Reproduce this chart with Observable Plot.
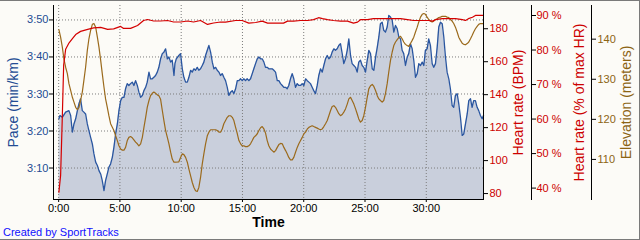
<!DOCTYPE html>
<html><head><meta charset="utf-8">
<script src="https://cdn.jsdelivr.net/npm/d3@7"></script>
<script src="https://cdn.jsdelivr.net/npm/@observablehq/plot@0.6"></script>
<style>
html,body{margin:0;padding:0;background:#fcfbf7}
#chart{position:relative;width:640px;height:240px;background:#fcfbf7;overflow:hidden;font-family:"Liberation Sans",Arial,sans-serif}
#chart svg{position:absolute;left:0;top:0;overflow:visible}
#border{position:absolute;left:0;top:0;width:640px;height:240px;box-sizing:border-box;border-top:1px solid #7a7a7a;border-right:1px solid #7a7a7a;border-bottom:1px solid #7a7a7a;pointer-events:none}
#credit{position:absolute;left:3px;top:225px;font-size:11px;color:#1010ff;line-height:14px}
</style></head>
<body>
<div id="chart"></div>
<script>
// ---- data: [time (min), value] ----
const pace = [[0.02,203.3],[0.11,204.2],[0.30,203.7],[0.57,205.1],[0.84,205.5],[0.98,204.2],[1.12,199.7],[1.25,201.9],[1.39,203.3],[1.53,205.5],[1.66,207.4],[1.79,208.7],[1.93,205.5],[2.06,205.1],[2.20,204.6],[2.34,201.9],[2.47,200.1],[2.61,198.3],[2.75,196.5],[2.88,193.8],[3.02,191.6],[3.16,190.7],[3.29,189.3],[3.43,188.4],[3.56,186.6],[3.70,183.9],[3.83,186.6],[3.97,188.4],[4.10,190.2],[4.24,191.1],[4.38,192.9],[4.51,195.6],[4.65,199.2],[4.79,201.9],[4.92,205.5],[5.06,208.2],[5.20,209.1],[5.33,209.1],[5.46,211.4],[5.60,212.8],[5.73,212.3],[5.87,212.8],[6.01,213.2],[6.14,212.3],[6.28,213.6],[6.42,212.3],[6.55,210.5],[6.69,209.1],[6.83,209.6],[6.96,210.9],[7.10,211.8],[7.23,213.2],[7.37,215.9],[7.50,214.1],[7.64,214.1],[7.77,214.5],[7.91,215.0],[8.05,215.9],[8.18,217.2],[8.32,219.5],[8.46,220.9],[8.59,221.3],[8.73,222.2],[8.87,219.5],[9.00,220.0],[9.14,218.6],[9.27,219.1],[9.41,215.0],[9.49,218.2],[9.60,219.5],[9.81,220.4],[9.95,220.9],[10.09,216.8],[10.22,214.5],[10.36,213.2],[10.50,213.2],[10.63,214.5],[10.77,216.4],[10.90,215.9],[11.04,216.8],[11.17,216.4],[11.31,217.2],[11.44,216.4],[11.58,216.8],[11.72,217.7],[11.85,218.6],[11.99,220.4],[12.13,221.8],[12.26,223.1],[12.40,221.3],[12.54,218.6],[12.67,216.8],[12.81,217.2],[12.94,216.4],[13.08,215.9],[13.21,215.0],[13.35,215.5],[13.48,214.5],[13.62,213.6],[13.76,211.8],[13.89,209.6],[14.03,210.5],[14.17,210.9],[14.30,210.1],[14.44,211.4],[14.58,213.6],[14.71,213.6],[14.85,214.1],[14.98,213.6],[15.11,214.1],[15.25,213.6],[15.39,214.1],[15.52,213.6],[15.66,214.1],[15.80,215.5],[15.93,216.8],[16.07,218.2],[16.21,219.5],[16.34,220.0],[16.48,219.5],[16.61,219.5],[16.75,218.6],[16.88,217.2],[17.02,217.2],[17.15,216.8],[17.29,216.8],[17.43,216.8],[17.56,216.4],[17.70,215.9],[17.84,213.6],[17.97,213.6],[18.11,212.8],[18.25,212.3],[18.38,211.8],[18.52,211.8],[18.65,211.4],[18.78,212.3],[18.92,214.1],[19.06,215.5],[19.19,214.1],[19.33,211.8],[19.47,212.8],[19.60,212.3],[19.74,212.3],[19.88,212.8],[20.01,212.3],[20.15,214.1],[20.29,213.6],[20.42,213.2],[20.55,212.8],[20.69,211.8],[20.82,210.9],[20.96,210.1],[21.10,212.3],[21.23,215.0],[21.37,216.8],[21.51,215.9],[21.64,217.7],[21.78,219.5],[21.92,220.4],[22.05,219.5],[22.19,220.0],[22.32,221.3],[22.46,222.2],[22.59,221.8],[22.73,222.2],[22.86,223.1],[23.00,223.6],[23.14,220.9],[23.27,218.2],[23.41,219.5],[23.55,221.8],[23.68,224.9],[23.82,220.4],[23.95,218.2],[24.09,217.7],[24.23,217.2],[24.36,215.9],[24.49,218.6],[24.63,219.1],[24.77,217.7],[24.90,217.2],[25.04,215.9],[25.18,219.1],[25.31,221.8],[25.45,220.9],[25.59,216.8],[25.72,216.4],[25.86,219.9],[26.00,222.6],[26.13,225.4],[26.26,229.0],[26.40,229.4],[26.53,227.2],[26.67,226.7],[26.81,228.1],[26.94,231.2],[27.08,230.8],[27.22,229.9],[27.35,226.7],[27.49,228.5],[27.63,227.6],[27.76,225.4],[27.90,224.9],[28.03,221.8],[28.16,220.9],[28.30,217.7],[28.44,219.9],[28.57,220.9],[28.71,223.6],[28.85,222.2],[28.98,219.1],[29.12,214.5],[29.26,215.5],[29.39,218.2],[29.53,217.7],[29.67,218.6],[29.80,217.7],[29.93,221.8],[30.07,222.2],[30.20,224.9],[30.34,223.1],[30.48,218.2],[30.61,217.2],[30.75,218.2],[30.89,222.6],[31.02,228.1],[31.16,229.4],[31.30,229.0],[31.43,225.4],[31.57,219.9],[31.70,215.9],[31.84,214.1],[31.97,211.4],[32.11,206.9],[32.24,206.4],[32.38,209.6],[32.52,210.1],[32.65,207.4],[32.79,203.7],[32.93,198.8],[33.06,199.2],[33.20,201.9],[33.34,204.6],[33.47,208.2],[33.61,208.7],[33.74,206.4],[33.87,208.2],[34.01,208.2],[34.15,206.4],[34.28,205.5],[34.42,204.2],[34.56,203.3],[34.67,204.2]];

const heartRate = [[0.02,80.8],[0.16,91],[0.29,124],[0.41,158],[0.57,167.5],[0.82,171.1],[1.14,174.1],[1.39,176.5],[1.79,178.4],[2.37,179.6],[2.85,180.5],[3.43,180.8],[4.00,179.6],[4.49,179.9],[5.06,181.4],[5.30,180.2],[5.87,180.2],[6.44,182.0],[6.93,185.0],[7.26,185.6],[7.75,184.7],[8.32,184.7],[8.89,185.0],[9.38,184.1],[9.95,184.1],[10.52,184.7],[11.01,184.1],[11.58,185.0],[12.15,182.6],[12.64,183.5],[13.21,184.1],[13.62,184.0],[14.44,185.0],[14.98,185.0],[15.52,183.4],[16.07,183.8],[16.61,184.6],[17.05,183.4],[17.86,183.4],[18.35,183.4],[18.68,184.6],[19.17,184.6],[19.74,185.0],[20.31,185.0],[20.80,185.5],[21.21,186.7],[21.53,186.1],[21.94,185.5],[22.43,185.0],[23.00,184.6],[23.57,184.6],[24.06,183.4],[24.39,184.0],[24.63,185.5],[25.20,185.5],[25.69,186.1],[26.26,186.1],[26.84,186.1],[27.32,186.1],[27.90,186.1],[28.47,185.5],[28.96,185.0],[29.53,185.0],[30.18,185.0],[30.51,184.6],[30.75,185.5],[31.32,186.1],[31.81,186.1],[32.38,186.1],[32.95,185.5],[33.20,185.0],[33.44,186.1],[33.77,187.0],[34.01,188.1],[34.42,188.1],[34.67,188.1]];

const elevation = [[0.02,142.4],[0.16,140.5],[0.30,138.0],[0.43,135.1],[0.57,133.0],[0.71,131.4],[0.84,128.9],[0.98,127.2],[1.12,125.5],[1.25,124.3],[1.39,123.0],[1.53,122.4],[1.66,123.0],[1.79,124.7],[1.93,126.8],[2.06,129.7],[2.20,133.0],[2.34,137.2],[2.47,140.1],[2.61,142.2],[2.75,143.7],[2.88,143.9],[3.02,143.0],[3.16,140.5],[3.29,138.0],[3.43,134.7],[3.56,131.4],[3.70,128.0],[3.83,125.1],[3.97,123.0],[4.10,120.9],[4.24,118.9],[4.38,118.0],[4.51,117.2],[4.65,115.9],[4.79,114.7],[4.92,113.4],[5.06,112.6],[5.20,112.3],[5.33,112.3],[5.46,113.0],[5.60,114.7],[5.73,115.5],[5.87,115.7],[6.01,115.4],[6.14,114.9],[6.28,114.3],[6.42,113.9],[6.55,113.4],[6.69,113.9],[6.83,115.5],[6.96,118.0],[7.10,120.5],[7.23,123.0],[7.37,124.7],[7.50,125.9],[7.64,126.5],[7.77,126.8],[7.91,126.5],[8.05,126.1],[8.18,125.9],[8.32,125.0],[8.46,122.2],[8.59,119.7],[8.73,117.2],[8.87,115.5],[9.00,113.9],[9.14,111.8],[9.27,110.1],[9.41,109.3],[9.54,109.3],[9.81,109.4],[9.95,110.5],[10.09,111.4],[10.22,111.2],[10.36,110.5],[10.50,109.3],[10.63,107.6],[10.77,105.9],[10.90,104.3],[11.04,103.0],[11.17,102.2],[11.31,102.0],[11.44,103.0],[11.58,105.5],[11.72,108.9],[11.85,111.4],[11.99,113.9],[12.13,115.9],[12.26,116.8],[12.40,117.4],[12.67,117.4],[12.81,117.4],[12.94,117.2],[13.08,116.8],[13.21,116.8],[13.35,117.6],[13.48,118.9],[13.62,119.7],[13.76,120.5],[13.89,120.9],[14.03,120.9],[14.17,120.5],[14.30,119.7],[14.44,118.0],[14.58,116.4],[14.71,114.7],[14.85,113.9],[14.98,113.4],[15.11,113.4],[15.25,113.2],[15.39,113.2],[15.52,113.4],[15.66,113.9],[15.80,114.7],[15.93,115.5],[16.07,115.9],[16.21,116.4],[16.34,117.2],[16.48,117.9],[16.61,118.2],[16.75,117.6],[16.88,116.6],[17.02,114.7],[17.15,113.4],[17.29,112.6],[17.43,112.2],[17.56,111.8],[17.70,112.2],[17.84,113.0],[17.97,113.7],[18.11,114.0],[18.25,113.9],[18.38,113.0],[18.52,112.2],[18.65,111.4],[18.78,110.5],[18.92,109.9],[19.06,109.9],[19.19,110.5],[19.33,111.8],[19.47,113.0],[19.60,113.9],[19.74,114.7],[19.88,115.5],[20.01,116.4],[20.15,116.8],[20.29,117.6],[20.42,118.0],[20.55,118.2],[20.69,118.4],[20.82,118.2],[20.96,118.0],[21.10,117.8],[21.23,117.6],[21.37,117.4],[21.51,117.6],[21.64,118.2],[21.78,118.9],[21.92,119.7],[22.05,120.9],[22.19,122.2],[22.32,123.2],[22.46,123.4],[22.59,123.0],[22.73,122.2],[22.86,121.4],[23.00,120.9],[23.14,121.2],[23.27,121.8],[23.41,122.6],[23.55,123.8],[23.68,125.1],[23.82,125.5],[23.95,124.7],[24.09,123.8],[24.23,122.6],[24.36,121.4],[24.49,120.1],[24.63,119.3],[24.77,119.7],[24.90,120.9],[25.04,123.0],[25.18,125.5],[25.31,127.6],[25.45,128.4],[25.59,128.7],[25.72,128.2],[25.86,127.2],[26.00,125.9],[26.13,125.1],[26.26,124.7],[26.40,124.3],[26.53,124.7],[26.67,126.4],[26.81,128.9],[26.94,131.8],[27.08,134.7],[27.22,136.8],[27.35,138.4],[27.49,139.3],[27.63,139.9],[27.76,140.4],[27.90,140.7],[28.03,140.1],[28.16,139.3],[28.30,138.7],[28.44,138.4],[28.57,138.2],[28.71,138.9],[28.85,139.7],[28.98,140.5],[29.12,141.8],[29.26,143.0],[29.39,144.3],[29.53,145.5],[29.67,146.2],[29.80,146.4],[29.93,146.2],[30.07,145.5],[30.20,144.9],[30.34,144.5],[30.48,144.3],[30.61,144.5],[30.75,144.9],[30.89,145.1],[31.02,145.4],[31.16,145.5],[31.30,145.7],[31.57,145.7],[31.70,145.5],[31.84,145.4],[31.97,144.9],[32.11,144.5],[32.24,143.9],[32.38,143.0],[32.52,141.8],[32.65,140.5],[32.79,139.7],[32.93,139.0],[33.06,138.7],[33.20,138.6],[33.34,138.9],[33.47,139.3],[33.61,140.1],[33.74,140.9],[33.87,141.8],[34.01,142.6],[34.15,143.2],[34.28,143.7],[34.42,143.9],[34.67,143.9]];

// ---- axes / ticks ----
const timeTicks = [0, 5, 10, 15, 20, 25, 30];
const paceTicks = [190, 200, 210, 220, 230];
const hrTicks = [80, 100, 120, 140, 160, 180];
const hrPctTicks = [40, 50, 60, 70, 80, 90];
const elevTicks = [110, 120, 130, 140];
const timeDomain = [-0.42, 34.67];
const paceDomain = [181.5, 233.9];
const hrDomain = [76.4, 194.1];
const hrPctDomain = [36.7, 92.9];
const elevDomain = [100, 148.4];
const labels = {time: "Time", pace: "Pace (min/km)", hr: "Heart rate (BPM)", hrPct: "Heart rate (% of max HR)", elev: "Elevation (meters)", credit: "Created by SportTracks"};

// ---- style ----
const C = {blue: "#2a56a0", blueText: "#234b93", fill: "#c9cfdc", red: "#d40000", redText: "#cc0000", brown: "#9b6a1c", brownText: "#8c6414", grid: "#7c7c7c"};
const W = 640, H = 240, mT = 5, mB = 41, mL = 53, mR = 157;
const font = {fontFamily: '"Liberation Sans", Arial, sans-serif', background: "transparent", overflow: "visible"};
const fmtPace = s => `${Math.floor(s / 60)}:${String(Math.round(s % 60)).padStart(2, "0")}`;
const root = document.getElementById("chart");
const add = p => root.appendChild(p);

// base: pace area + grid + left/bottom axes
add(Plot.plot({
  width: W, height: H, marginTop: mT, marginBottom: mB, marginLeft: mL, marginRight: mR, style: font,
  x: {domain: timeDomain, axis: null},
  y: {domain: paceDomain, axis: null},
  marks: [
    Plot.areaY(pace, {x: d => d[0], y1: paceDomain[0], y2: d => d[1], fill: C.fill}),
    Plot.gridX(timeTicks, {stroke: C.grid, strokeOpacity: 1, strokeDasharray: "1,2"}),
    Plot.gridY(paceTicks, {stroke: C.grid, strokeOpacity: 1, strokeDasharray: "1,2"}),
    Plot.lineY(pace, {x: d => d[0], y: d => d[1], stroke: C.blue, strokeWidth: 1.3}),
    Plot.frame({anchor: "left", stroke: "#000"}),
    Plot.frame({anchor: "bottom", stroke: "#000"}),
    Plot.axisY(paceTicks, {anchor: "left", tickFormat: fmtPace, tickSize: 4, tickPadding: 1, fontSize: 11, fill: C.blueText, stroke: "#000", label: null}),
    Plot.axisX(timeTicks, {anchor: "bottom", tickFormat: m => `${m}:00`, tickSize: 3, tickPadding: 2, fontSize: 11, fill: "#000", stroke: "#000", label: null}),
    Plot.text([labels.pace], {frameAnchor: "left", dx: -40, rotate: -90, textAnchor: "middle", fontSize: 14, fill: C.blueText}),
    Plot.text([labels.time], {frameAnchor: "bottom", dy: 27, textAnchor: "middle", fontSize: 14, fontWeight: "bold", fill: "#000"})
  ]
}));

// elevation line (same frame)
add(Plot.plot({
  width: W, height: H, marginTop: mT, marginBottom: mB, marginLeft: mL, marginRight: mR, style: font,
  x: {domain: timeDomain, axis: null},
  y: {domain: elevDomain, axis: null},
  marks: [Plot.lineY(elevation, {x: d => d[0], y: d => d[1], stroke: C.brown, strokeWidth: 1.2})]
}));

// heart rate line + BPM axis on right of frame
add(Plot.plot({
  width: W, height: H, marginTop: mT, marginBottom: mB, marginLeft: mL, marginRight: mR, style: font,
  x: {domain: timeDomain, axis: null},
  y: {domain: hrDomain, axis: null},
  marks: [
    Plot.lineY(heartRate, {x: d => d[0], y: d => d[1], stroke: C.red, strokeWidth: 1.2}),
    Plot.frame({anchor: "right", stroke: "#000"}),
    Plot.axisY(hrTicks, {anchor: "right", tickSize: 4, tickPadding: 2, fontSize: 11, fill: C.redText, stroke: "#000", label: null}),
    Plot.text([labels.hr], {frameAnchor: "right", dx: 35, rotate: -90, textAnchor: "middle", fontSize: 14, fill: C.redText})
  ]
}));

// % of max HR axis
add(Plot.plot({
  width: W, height: H, marginTop: mT, marginBottom: mB, marginLeft: 500, marginRight: 109, style: font,
  y: {domain: hrPctDomain, axis: null},
  marks: [
    Plot.frame({anchor: "right", stroke: "#000"}),
    Plot.axisY(hrPctTicks, {anchor: "right", tickFormat: v => `${v} %`, tickSize: 4, tickPadding: 1, fontSize: 11, fill: C.redText, stroke: "#000", label: null}),
    Plot.text([labels.hrPct], {frameAnchor: "right", dx: 48, rotate: -90, textAnchor: "middle", fontSize: 14, fill: C.redText})
  ]
}));

// elevation axis
add(Plot.plot({
  width: W, height: H, marginTop: mT, marginBottom: mB, marginLeft: 560, marginRight: 49, style: font,
  y: {domain: elevDomain, axis: null},
  marks: [
    Plot.frame({anchor: "right", stroke: "#000"}),
    Plot.axisY(elevTicks, {anchor: "right", tickSize: 4, tickPadding: 2, fontSize: 11, fill: C.brownText, stroke: "#000", label: null}),
    Plot.text([labels.elev], {frameAnchor: "right", dx: 35, rotate: -90, textAnchor: "middle", fontSize: 14, fill: C.brownText})
  ]
}));

const credit = document.createElement("div");
credit.id = "credit";
credit.textContent = labels.credit;
root.appendChild(credit);
const border = document.createElement("div");
border.id = "border";
root.appendChild(border);
</script>
</body></html>
